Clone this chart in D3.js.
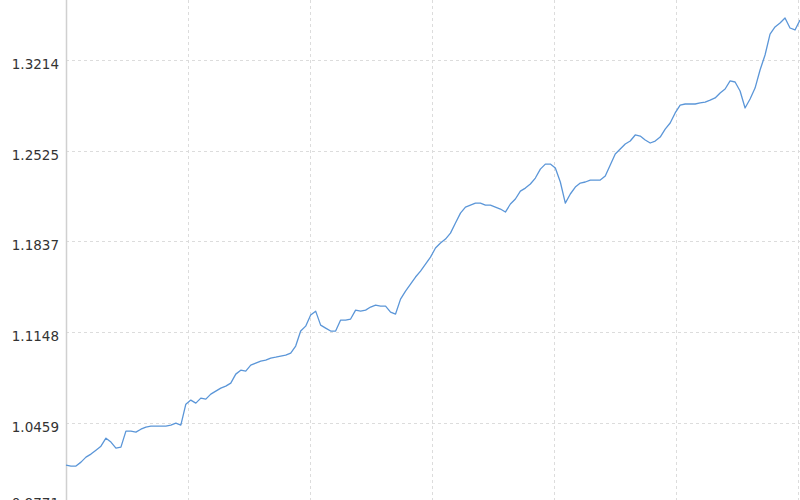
<!DOCTYPE html>
<html>
<head>
<meta charset="utf-8">
<script src="https://cdn.jsdelivr.net/npm/d3@7"></script>
<style>
  html, body { margin: 0; padding: 0; background: #fff; }
  svg { display: block; }
</style>
</head>
<body>
<svg id="chart" width="800" height="500"></svg>
<script>
// Net value series (evenly spaced observations)
const values = [
  1.0139, 1.0132, 1.0132, 1.0162, 1.0200, 1.0223, 1.0253, 1.0283, 1.0344, 1.0314,
  1.0268, 1.0276, 1.0397, 1.0397, 1.0390, 1.0412, 1.0428, 1.0435, 1.0435, 1.0435,
  1.0435, 1.0443, 1.0458, 1.0443, 1.0602, 1.0633, 1.0610, 1.0648, 1.0640, 1.0678,
  1.0701, 1.0724, 1.0739, 1.0762, 1.0830, 1.0860, 1.0853, 1.0898, 1.0914, 1.0929,
  1.0936, 1.0952, 1.0959, 1.0967, 1.0974, 1.0990, 1.1043, 1.1157, 1.1194, 1.1278,
  1.1308, 1.1202, 1.1179, 1.1157, 1.1157, 1.1240, 1.1240, 1.1248, 1.1316, 1.1308,
  1.1316, 1.1339, 1.1354, 1.1346, 1.1346, 1.1301, 1.1286, 1.1399, 1.1460, 1.1513,
  1.1567, 1.1612, 1.1665, 1.1718, 1.1787, 1.1825, 1.1855, 1.1900, 1.1977, 1.2052,
  1.2098, 1.2113, 1.2128, 1.2128, 1.2113, 1.2113, 1.2098, 1.2083, 1.2060, 1.2121,
  1.2159, 1.2219, 1.2242, 1.2273, 1.2318, 1.2386, 1.2424, 1.2424, 1.2394, 1.2288,
  1.2128, 1.2197, 1.2250, 1.2280, 1.2288, 1.2303, 1.2303, 1.2303, 1.2333, 1.2417,
  1.2500, 1.2538, 1.2576, 1.2599, 1.2645, 1.2637, 1.2607, 1.2584, 1.2599, 1.2629,
  1.2690, 1.2736, 1.2812, 1.2872, 1.2880, 1.2880, 1.2880, 1.2888, 1.2895, 1.2910,
  1.2926, 1.2964, 1.2994, 1.3055, 1.3047, 1.2979, 1.2850, 1.2918, 1.3001, 1.3138,
  1.3252, 1.3411, 1.3465, 1.3495, 1.3533, 1.3457, 1.3442, 1.3518
];
// Y tick values and labels
const yTicks = [0.9771, 1.0459, 1.1148, 1.1837, 1.2525, 1.3214];
const yTickLabels = ["0.9771", "1.0459", "1.1148", "1.1837", "1.2525", "1.3214"];
// Vertical grid positions (in observation index units)
const xGridTicks = [24.43, 48.87, 73.3, 97.74, 122.17, 146.6];

const svg = d3.select("#chart");
const W = 800, H = 500;
const left = 66;

const x = d3.scaleLinear().domain([0, values.length - 1]).range([left, 800]);
const y = d3.scaleLinear().domain([1.0459, 1.3214]).range([423, 60]);

// horizontal dashed grid
svg.append("g")
  .selectAll("line")
  .data(yTicks)
  .join("line")
  .attr("x1", left).attr("x2", W)
  .attr("y1", d => Math.round(y(d)) + 0.5)
  .attr("y2", d => Math.round(y(d)) + 0.5)
  .attr("stroke", "#dcdcdc")
  .attr("stroke-width", 1)
  .attr("stroke-dasharray", "3,3");

// vertical dashed grid
svg.append("g")
  .selectAll("line")
  .data(xGridTicks)
  .join("line")
  .attr("x1", d => Math.round(x(d)) + 0.5)
  .attr("x2", d => Math.round(x(d)) + 0.5)
  .attr("y1", 0).attr("y2", H)
  .attr("stroke", "#dcdcdc")
  .attr("stroke-width", 1)
  .attr("stroke-dasharray", "3,3");

// left axis line
svg.append("line")
  .attr("x1", left + 0.5).attr("x2", left + 0.5)
  .attr("y1", 0).attr("y2", H)
  .attr("stroke", "#d0d0d0")
  .attr("stroke-width", 1.5);

// y labels
svg.append("g")
  .selectAll("text")
  .data(yTicks)
  .join("text")
  .attr("x", 59)
  .attr("y", d => Math.min(y(d) + 4, 503))
  .attr("dy", "0.36em")
  .attr("text-anchor", "end")
  .attr("font-family", "DejaVu Sans, Verdana, sans-serif")
  .attr("font-size", 13.5)
  .attr("fill", "#333")
  .text((d, i) => yTickLabels[i]);

// line
const line = d3.line()
  .x((d, i) => x(i))
  .y(d => y(d));

svg.append("path")
  .datum(values)
  .attr("d", line)
  .attr("fill", "none")
  .attr("stroke", "#5b96d8")
  .attr("stroke-width", 1.3)
  .attr("stroke-linejoin", "round");
</script>
</body>
</html>
